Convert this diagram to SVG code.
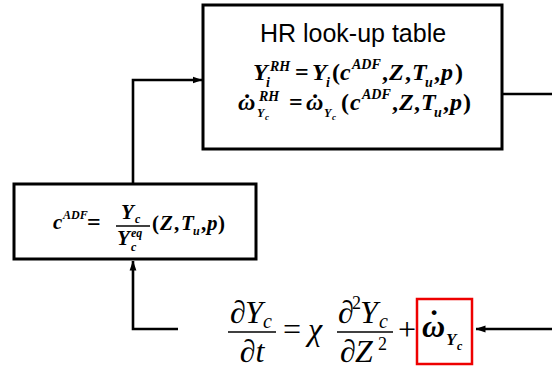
<svg xmlns="http://www.w3.org/2000/svg" width="552" height="372" viewBox="0 0 552 372">
<defs>
<marker id="ah" markerWidth="10" markerHeight="8" refX="9.5" refY="4" orient="auto" markerUnits="userSpaceOnUse">
<path d="M0,0.6 L10,4 L0,7.4 Z" fill="#000"/>
</marker>
</defs>
<style>
.box{fill:#fff;stroke:#000;stroke-width:3}
.red{fill:none;stroke:#e00;stroke-width:2.5}
.conn{fill:none;stroke:#000;stroke-width:2.6}
.lbl{font-family:"Liberation Sans",Arial,sans-serif;font-size:25px;fill:#000}
.m{font-family:"Liberation Serif","Times New Roman",serif;font-style:italic;font-weight:bold;fill:#000}
.e{font-family:"Liberation Serif","Times New Roman",serif;font-style:italic;fill:#000}
.u{font-style:normal}
.dot{font-family:"Liberation Serif","Times New Roman",serif;font-weight:bold;font-style:normal;text-anchor:middle;fill:#000}
.bar{stroke:#000;stroke-width:1.6}
</style>
<rect width="552" height="372" fill="#fff"/>
<g id="connectors">
<path class="conn" d="M133,184 V80 H202" marker-end="url(#ah)"/>
<path class="conn" d="M178,329 H133 V261" marker-end="url(#ah)"/>
<path class="conn" d="M502,94 H560 V329 H476" marker-end="url(#ah)"/>
</g>
<g id="lookup">
<rect class="box" x="203" y="5" width="299" height="144"/>
<text class="lbl" x="353" y="42" text-anchor="middle">HR look-up table</text>
<g class="m" font-size="24">
<text x="253" y="80">Y</text>
<text x="270" y="71" font-size="14">RH</text>
<text x="266" y="87" font-size="14">i</text>
<text x="295" y="80" class="u">=</text>
<text x="312" y="80">Y</text>
<text x="326" y="87" font-size="14">i</text>
<text x="332" y="80" class="u">(</text>
<text x="340" y="80">c</text>
<text x="352" y="69" font-size="14">ADF</text>
<text x="382" y="80" class="u">,</text>
<text x="389" y="80">Z</text>
<text x="405" y="80" class="u">,</text>
<text x="412" y="80">T</text>
<text x="425" y="87" font-size="14">u</text>
<text x="434" y="80" class="u">,</text>
<text x="441" y="80">p</text>
<text x="455" y="80" class="u">)</text>

<text x="238" y="110">ω</text>
<text class="dot" x="247" y="112" font-size="26">˙</text>
<text x="259" y="101" font-size="14">RH</text>
<text x="257" y="117" font-size="12">Y</text>
<text x="265" y="120" font-size="9">c</text>
<text x="289" y="110" class="u">=</text>
<text x="306" y="110">ω</text>
<text class="dot" x="315" y="112" font-size="26">˙</text>
<text x="324" y="117" font-size="12">Y</text>
<text x="332" y="120" font-size="9">c</text>
<text x="341" y="110" class="u">(</text>
<text x="350" y="110">c</text>
<text x="362" y="99" font-size="14">ADF</text>
<text x="392" y="110" class="u">,</text>
<text x="399" y="110">Z</text>
<text x="414" y="110" class="u">,</text>
<text x="421" y="110">T</text>
<text x="434" y="117" font-size="14">u</text>
<text x="443" y="110" class="u">,</text>
<text x="450" y="110">p</text>
<text x="463" y="110" class="u">)</text>
</g>
</g>
<g id="adf">
<rect class="box" x="14" y="184" width="242" height="75"/>
<g class="m" font-size="21">
<text x="53" y="229">c</text>
<text x="63" y="219" font-size="12">ADF</text>
<text x="87" y="230" font-size="24" class="u">=</text>
<line class="bar" x1="116" y1="226" x2="150" y2="226"/>
<text x="121" y="219">Y</text>
<text x="135" y="223" font-size="12">c</text>
<text x="117" y="245">Y</text>
<text x="131" y="237" font-size="12">eq</text>
<text x="131" y="251" font-size="12">c</text>
<text x="152" y="230" class="u">(</text>
<text x="160" y="230">Z</text>
<text x="174" y="230" class="u">,</text>
<text x="181" y="230">T</text>
<text x="193" y="235" font-size="12">u</text>
<text x="201" y="230" class="u">,</text>
<text x="207" y="230">p</text>
<text x="218" y="230" class="u">)</text>
</g>
</g>
<g id="equation">
<g class="e" font-size="32">
<text x="230" y="323">∂</text>
<text x="245" y="323">Y</text>
<text x="263" y="328" font-size="20">c</text>
<line class="bar" x1="228" y1="332" x2="276" y2="332"/>
<text x="252" y="362" text-anchor="middle">∂t</text>
<text x="283" y="340" class="u">=</text>
<text x="308" y="340">χ</text>
<text x="338" y="323">∂</text>
<text x="352" y="309" font-size="18" class="u">2</text>
<text x="360" y="323">Y</text>
<text x="379" y="328" font-size="20">c</text>
<line class="bar" x1="337" y1="332" x2="393" y2="332"/>
<text x="340" y="362">∂</text>
<text x="355" y="362">Z</text>
<text x="378" y="350" font-size="18" class="u">2</text>
<text x="398" y="340" class="u">+</text>
</g>
</g>
<g id="source">
<rect class="red" x="417" y="299" width="55" height="65"/>
<g class="m" font-size="32">
<text x="422" y="337">ω</text>
<text class="dot" x="434" y="332">˙</text>
<text x="446" y="345" font-size="17">Y</text>
<text x="457" y="350" font-size="12">c</text>
</g>
</g>
</svg>
